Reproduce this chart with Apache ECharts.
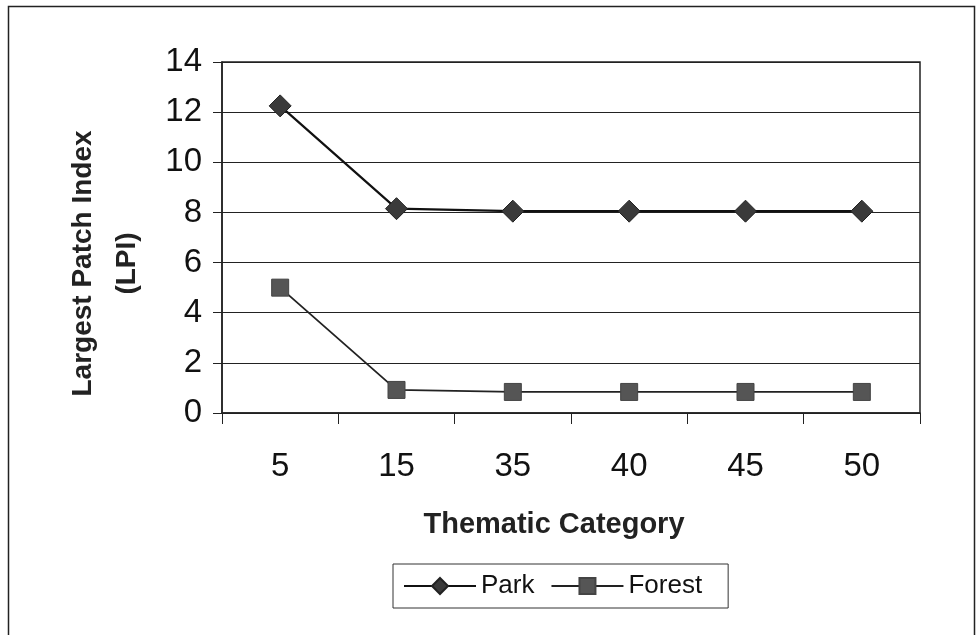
<!DOCTYPE html>
<html>
<head>
<meta charset="utf-8">
<style>
	html, body { margin: 0; padding: 0; background: #fff; }
	#chart { width: 976px; height: 635px; }
</style>
</head>
<body>
	<div id="chart"></div>
	<script src="https://cdn.jsdelivr.net/npm/echarts@6/dist/echarts.min.js"></script>
	<script>
		var categories = ['5', '15', '35', '40', '45', '50'];
		var park = [12.25, 8.15, 8.05, 8.05, 8.05, 8.05];
		var forest = [5.0, 0.92, 0.84, 0.84, 0.84, 0.84];
		var yTicks = [0, 2, 4, 6, 8, 10, 12, 14];

		var font = '"Liberation Sans", Arial, sans-serif';
		var myChart = echarts.init(document.getElementById('chart'));

		option = {
			backgroundColor: '#fff',
			animation: false,
			graphic: [
				{
					type: 'rect',
					shape: { x: 8.5, y: 6.5, width: 966, height: 650 },
					style: { fill: 'none', stroke: '#222', lineWidth: 1.5 },
					silent: true
				}
			],
			grid: {
				left: 222,
				right: 56,
				top: 62,
				bottom: 222,
				show: true,
				borderColor: '#222',
				borderWidth: 1.5
			},
			legend: {
				left: 393,
				top: 564,
				padding: [9, 26, 9, 10],
				borderColor: '#333',
				borderWidth: 1,
				itemWidth: 72,
				itemHeight: 20,
				itemGap: 16,
				textStyle: { fontFamily: font, fontSize: 26, color: '#111' },
				data: ['Park', 'Forest']
			},
			xAxis: {
				type: 'category',
				data: categories,
				boundaryGap: true,
				name: 'Thematic Category',
				nameLocation: 'middle',
				nameGap: 97,
				nameTextStyle: {
					fontFamily: font, fontSize: 29, fontWeight: 'bold', color: '#222',
					padding: [0, 34, 0, 0]
				},
				axisLine: { lineStyle: { color: '#222', width: 1.5 } },
				axisTick: { show: true, interval: 0, length: 11, lineStyle: { color: '#222' } },
				axisLabel: { interval: 0, margin: 37, fontFamily: font, fontSize: 33, color: '#111' },
				splitLine: { show: false }
			},
			yAxis: {
				type: 'value',
				min: yTicks[0],
				max: yTicks[yTicks.length - 1],
				interval: 2,
				name: 'Largest Patch Index\n(LPI)',
				nameLocation: 'middle',
				nameGap: 73,
				nameTextStyle: {
					fontFamily: font, fontSize: 28, fontWeight: 'bold', color: '#222',
					lineHeight: 44, padding: [0, 52, 0, 0]
				},
				axisLine: { show: true, lineStyle: { color: '#222', width: 1.5 } },
				axisTick: { show: true, length: 9, lineStyle: { color: '#222' } },
				axisLabel: { margin: 20, fontFamily: font, fontSize: 33, color: '#111' },
				splitLine: { show: true, lineStyle: { color: '#222', width: 1.2 } }
			},
			series: [
				{
					name: 'Park',
					type: 'line',
					data: park,
					symbol: 'diamond',
					symbolSize: 22,
					lineStyle: { color: '#111', width: 2.2 },
					itemStyle: { color: '#3a3a3a', borderColor: '#222', borderWidth: 1 }
				},
				{
					name: 'Forest',
					type: 'line',
					data: forest,
					symbol: 'rect',
					symbolSize: 17,
					lineStyle: { color: '#222', width: 1.8 },
					itemStyle: { color: '#555', borderColor: '#444', borderWidth: 1 }
				}
			]
		};

		myChart.setOption(option);
	</script>
</body>
</html>
